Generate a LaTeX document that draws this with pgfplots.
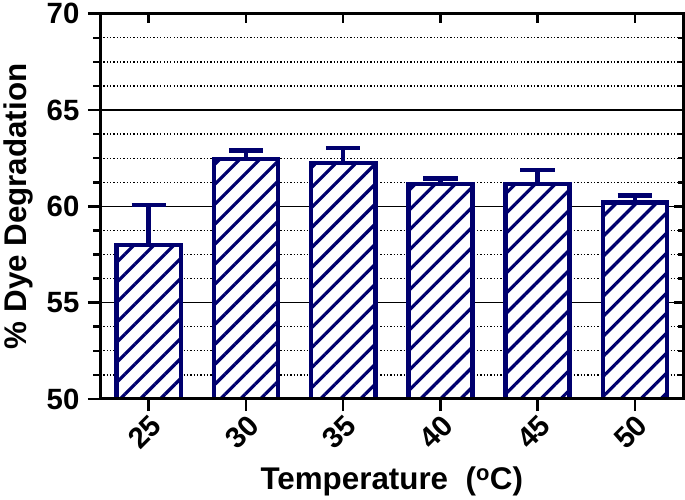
\documentclass[border=0pt]{standalone}
\usepackage{pgfplots}
\pgfplotsset{compat=1.18}
\usepackage{fontspec}
\setmainfont{Liberation Sans}
\usetikzlibrary{patterns.meta}
\definecolor{navy}{RGB}{0,0,110}
\begin{document}
\begin{tikzpicture}
\begin{axis}[
  scale only axis,
  width=577pt, height=381pt,
  xmin=-0.5, xmax=5.5,
  ymin=50, ymax=70,
  xtick={0,1,2,3,4,5},
  xticklabels={25,30,35,40,45,50},
  ytick={50,55,60,65,70},
  minor y tick num=3,
  ymajorgrids, yminorgrids,
  major grid style={black, line width=1.2pt},
  minor grid style={black, line width=1.3pt, dotted},
  axis line style={black, line width=3pt},
  xtick pos=left, ytick pos=left,
  tick align=outside,
  major tick length=12pt,
  minor tick length=7pt,
  tick style={black, line width=2.5pt},
  /pgf/number format/assume math mode=true,
  ticklabel style={font=\bfseries\fontsize{29}{29}\selectfont},
  xticklabel style={rotate=45, anchor=east, yshift=-12pt, xshift=2pt},
  yticklabel style={xshift=-5pt},
  xlabel={Temperature\ \ (\textsuperscript{o}C)},
  ylabel={\% Dye Degradation},
  label style={font=\bfseries\fontsize{31}{31}\selectfont},
  xlabel style={yshift=-7pt},
  ylabel style={yshift=7pt},
]
\addplot[ybar, bar width=0.66, draw=navy, line width=4.5pt, fill=white,
  postaction={pattern={Lines[angle=45, distance=14pt, line width=3.2pt]}, pattern color=navy},
  error bars/.cd, y dir=plus, y explicit,
  error bar style={navy, line width=4.5pt},
  error mark options={navy, rotate=90, mark size=17pt, line width=4.5pt}]
  table[x=x, y=y, y error=e] {
  x y e
  0 58.0 2.08
  1 62.45 0.44
  2 62.25 0.77
  3 61.15 0.31
  4 61.15 0.74
  5 60.2 0.35
};
\path (rel axis cs:1,0) ++(8pt,0pt);
\end{axis}
\begin{scope}[overlay]
\begin{axis}[
  scale only axis,
  width=577pt, height=381pt,
  xmin=-0.5, xmax=5.5,
  ymin=50, ymax=70,
  xtick={0,1,2,3,4,5},
  ytick={50,55,60,65,70},
  minor y tick num=3,
  xticklabels={}, yticklabels={},
  xtick pos=right, ytick pos=right,
  tick align=inside,
  major tick length=9pt,
  minor tick length=5pt,
  tick style={black, line width=2.5pt},
  axis line style={black, line width=3pt},
]
\end{axis}
\end{scope}
\end{tikzpicture}
\end{document}
